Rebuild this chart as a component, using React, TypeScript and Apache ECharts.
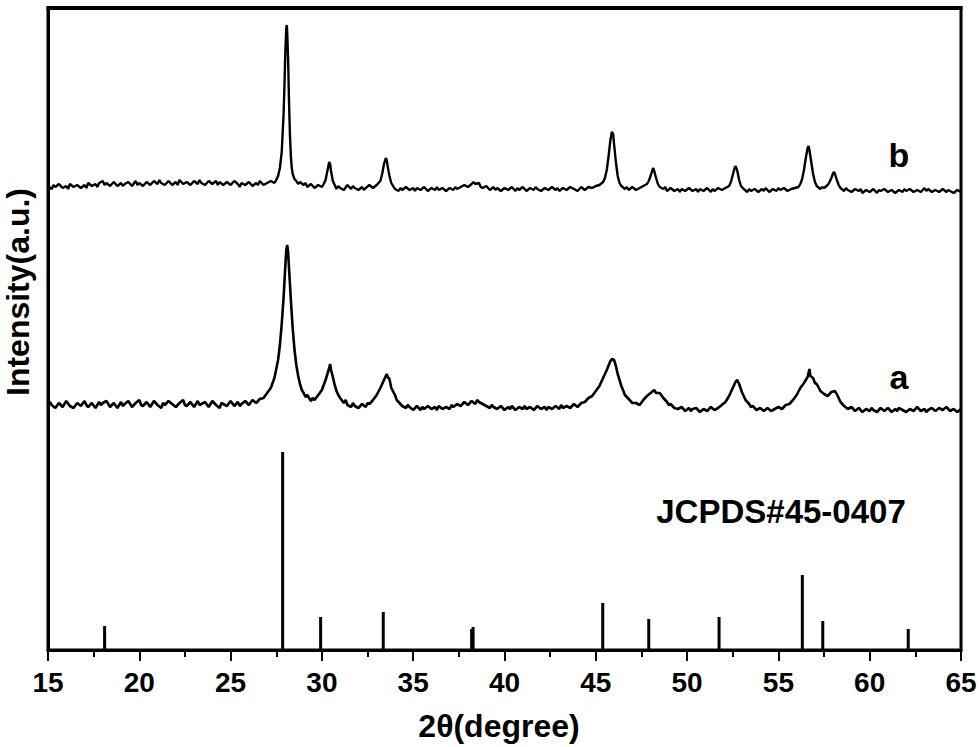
import React, { useEffect, useRef } from "react";
import * as echarts from "echarts";

// 2θ ticks
const xTicks = [15, 20, 25, 30, 35, 40, 45, 50, 55, 60, 65];

// JCPDS#45-0407 reference lines: [2θ, relative intensity]
const refLines: [number, number][] = [
  [18.1, 24], [27.85, 198], [29.93, 33], [33.36, 38], [38.2, 21], [38.28, 23],
  [45.38, 47], [47.9, 31], [51.75, 33], [56.31, 75], [57.43, 29], [62.11, 21],
];

// sample b (offset upper trace)
const curveB: [number, number][] = [
  [15.0,464],[15.2,461],[15.3,465],[15.4,463],[15.6,466],[15.8,462],[16.0,464],[16.1,461],[16.2,466],[16.4,463],[16.6,465],[16.8,462],
  [17.0,465],[17.1,462],[17.2,467],[17.4,464],[17.6,466],[17.7,463],[17.8,467],[18.0,469],[18.1,465],[18.2,467],[18.4,464],[18.6,468],[18.8,464],
  [19.0,467],[19.1,464],[19.2,466],[19.4,468],[19.6,464],[19.8,469],[19.9,465],[20.0,467],[20.2,464],[20.4,468],[20.6,465],[20.8,469],
  [21.0,466],[21.1,470],[21.2,467],[21.4,465],[21.6,469],[21.8,465],[22.0,468],[22.1,465],[22.2,470],[22.4,466],[22.6,468],[22.8,465],
  [23.0,469],[23.2,466],[23.3,470],[23.4,467],[23.6,465],[23.8,469],[24.0,466],[24.2,469],[24.3,465],[24.4,468],[24.6,465],[24.8,468],
  [25.0,465],[25.2,469],[25.4,466],[25.5,463],[25.6,467],[25.8,465],[26.0,468],[26.2,464],[26.4,467],[26.5,465],[26.6,469],[26.8,465],
  [27.0,467],[27.2,469],[27.4,467],[27.5,470],[27.6,474],[27.7,482],[27.8,498],[27.9,535],[27.95,565],[28.0,600],
  [28.05,622],[28.08,625],[28.1,618],[28.15,590],[28.2,548],[28.25,515],[28.3,494],[28.35,482],[28.4,476],[28.5,471],
  [28.6,469],[28.7,466],[28.8,468],[29.0,465],[29.1,467],[29.2,463],[29.4,466],[29.6,462],[29.8,465],[30.0,463],[30.1,466],[30.2,470],
  [30.3,479],[30.4,488],[30.45,486],[30.5,479],[30.6,469],[30.7,465],[30.8,461],[30.9,464],[31.0,462],[31.2,460],[31.4,465],
  [31.6,461],[31.7,464],[31.8,462],[32.0,460],[32.2,463],[32.3,460],[32.4,462],[32.6,465],[32.8,462],[33.0,465],[33.2,469],[33.3,476],
  [33.4,486],[33.5,492],[33.55,490],[33.6,484],[33.7,474],[33.8,467],[33.9,464],[34.0,461],[34.2,459],[34.3,462],[34.4,460],
  [34.6,463],[34.8,460],[35.0,462],[35.1,459],[35.2,462],[35.4,460],[35.6,463],[35.8,459],[36.0,462],[36.2,460],[36.3,463],[36.4,460],
  [36.6,462],[36.8,459],[37.0,462],[37.2,460],[37.3,463],[37.4,461],[37.6,463],[37.8,465],[38.0,463],[38.2,466],[38.3,468],[38.4,466],
  [38.6,467],[38.7,463],[38.8,462],[39.0,464],[39.2,460],[39.4,463],[39.5,460],[39.6,462],[39.8,459],[40.0,462],[40.2,460],[40.4,463],
  [40.6,459],[40.7,462],[40.8,460],[41.0,463],[41.2,459],[41.4,462],[41.6,460],[41.7,463],[41.8,461],[42.0,459],[42.2,462],[42.4,460],
  [42.6,463],[42.8,460],[42.9,462],[43.0,459],[43.2,462],[43.4,460],[43.6,463],[43.8,461],[44.0,459],[44.2,463],[44.4,460],
  [44.6,463],[44.8,462],[45.0,464],[45.2,465],[45.4,468],[45.5,472],[45.6,480],[45.7,494],[45.8,510],[45.88,518],
  [45.95,516],[46.0,506],[46.1,488],[46.2,474],[46.3,467],[46.4,464],[46.6,461],[46.7,463],[46.8,460],[47.0,463],[47.2,460],
  [47.4,462],[47.6,464],[47.8,466],[47.9,469],[48.0,474],[48.1,480],[48.15,482],[48.2,479],[48.3,472],[48.4,466],
  [48.5,463],[48.7,461],[48.8,463],[48.9,459],[49.1,462],[49.3,459],[49.5,461],[49.6,458],[49.7,461],[49.9,459],[50.1,462],[50.3,459],
  [50.5,461],[50.6,458],[50.7,461],[50.9,459],[51.1,462],[51.3,458],[51.4,461],[51.5,459],[51.7,462],[51.9,460],[52.1,462],[52.3,464],
  [52.4,468],[52.5,475],[52.6,482],[52.66,484],[52.75,479],[52.85,470],[52.95,464],[53.1,461],[53.3,458],[53.4,461],[53.5,459],
  [53.7,461],[53.9,458],[54.1,461],[54.2,459],[54.3,462],[54.5,458],[54.7,461],[54.9,459],[55.0,462],[55.1,460],[55.3,462],[55.5,459],
  [55.7,461],[55.9,462],[56.1,463],[56.2,466],[56.3,471],[56.4,480],[56.5,492],[56.6,502],[56.65,504],[56.7,500],
  [56.8,488],[56.9,476],[57.0,468],[57.1,464],[57.3,461],[57.4,463],[57.5,462],[57.7,465],[57.8,468],[57.9,472],[58.0,477],
  [58.05,478],[58.1,476],[58.2,470],[58.3,465],[58.4,462],[58.6,459],[58.7,462],[58.8,460],[59.0,458],[59.2,461],[59.4,459],
  [59.5,461],[59.6,457],[59.8,460],[60.0,458],[60.2,461],[60.4,457],[60.5,460],[60.6,459],[60.8,461],[61.0,458],[61.2,460],[61.4,457],
  [61.6,460],[61.8,458],[61.9,461],[62.0,459],[62.2,461],[62.4,458],[62.6,460],[62.8,458],[63.0,462],[63.1,459],[63.2,461],[63.4,458],
  [63.6,460],[63.8,458],[64.0,461],[64.2,458],[64.3,460],[64.4,459],[64.6,457],[64.8,460],[65.0,458],
];

// sample a (offset middle trace)
const curveA: [number, number][] = [
  [15.0,244],[15.1,248],[15.2,245],[15.4,242],[15.6,247],[15.8,243],[15.9,246],[16.0,249],[16.2,244],[16.4,242],[16.6,247],[16.8,244],
  [17.0,249],[17.1,245],[17.2,243],[17.4,247],[17.6,242],[17.8,248],[17.9,245],[18.0,247],[18.2,249],[18.4,243],[18.6,247],[18.8,242],
  [19.0,248],[19.1,244],[19.2,246],[19.4,249],[19.6,243],[19.8,247],[20.0,250],[20.1,245],[20.2,244],[20.4,248],[20.6,243],[20.8,249],
  [21.0,245],[21.2,242],[21.3,247],[21.4,245],[21.6,249],[21.8,246],[22.0,243],[22.2,247],[22.4,250],[22.5,245],[22.6,244],[22.8,248],
  [23.0,243],[23.2,249],[23.3,245],[23.4,246],[23.6,248],[23.8,243],[24.0,249],[24.2,245],[24.4,242],[24.5,247],[24.6,246],[24.8,244],
  [25.0,249],[25.2,244],[25.4,248],[25.5,244],[25.6,246],[25.8,249],[26.0,245],[26.2,250],[26.4,247],[26.6,251],[26.8,252],
  [27.0,257],[27.2,262],[27.4,272],[27.6,290],[27.7,305],[27.8,326],[27.9,352],[28.0,385],[28.05,400],[28.1,405],
  [28.15,398],[28.2,382],[28.3,350],[28.4,322],[28.5,300],[28.6,285],[28.7,274],[28.8,266],[28.9,260],[29.0,257],
  [29.1,253],[29.2,255],[29.4,249],[29.5,252],[29.6,250],[29.8,255],[30.0,260],[30.2,270],[30.3,276],[30.4,282],[30.45,286],[30.5,280],
  [30.6,273],[30.7,265],[30.8,259],[30.9,255],[31.0,252],[31.2,247],[31.3,250],[31.4,245],[31.6,243],[31.7,247],[31.8,244],[32.0,242],[32.2,246],
  [32.4,243],[32.5,247],[32.6,246],[32.8,250],[33.0,255],[33.2,262],[33.4,270],[33.55,276],[33.6,273],[33.7,271],[33.8,262],
  [34.0,255],[34.1,250],[34.2,248],[34.4,244],[34.6,242],[34.7,245],[34.8,243],[35.0,240],[35.2,244],[35.4,240],[35.5,243],[35.6,241],[35.8,244],
  [36.0,241],[36.2,243],[36.3,240],[36.4,244],[36.6,241],[36.8,243],[37.0,241],[37.1,245],[37.2,243],[37.4,246],[37.6,244],[37.8,248],
  [38.0,245],[38.2,249],[38.4,246],[38.5,250],[38.6,248],[38.8,246],[39.0,244],[39.2,242],[39.3,245],[39.4,243],[39.6,241],[39.8,244],
  [40.0,240],[40.2,243],[40.3,241],[40.4,244],[40.6,240],[40.8,243],[41.0,241],[41.1,244],[41.2,241],[41.4,243],[41.6,240],[41.8,244],
  [42.0,241],[42.2,243],[42.3,240],[42.4,243],[42.6,241],[42.8,244],[43.0,241],[43.1,245],[43.2,242],[43.4,244],[43.6,242],[43.8,246],
  [44.0,243],[44.2,247],[44.4,248],[44.6,252],[44.8,254],[45.0,259],[45.2,264],[45.4,272],[45.6,280],[45.8,289],
  [45.9,291],[46.0,290],[46.1,284],[46.2,276],[46.4,264],[46.6,255],[46.8,251],[47.0,247],[47.2,247],[47.4,245],
  [47.6,250],[47.8,254],[48.0,257],[48.2,260],[48.3,257],[48.5,257],[48.7,252],[48.9,248],[49.0,245],[49.1,246],[49.3,242],
  [49.5,241],[49.7,243],[49.9,239],[50.1,242],[50.2,239],[50.3,241],[50.5,242],[50.7,238],[50.9,241],[51.1,239],[51.3,243],
  [51.5,240],[51.7,242],[51.9,245],[52.1,248],[52.3,254],[52.5,262],[52.65,268],[52.75,270],[52.85,266],[53.0,258],
  [53.2,250],[53.4,246],[53.5,243],[53.6,244],[53.8,240],[54.0,242],[54.2,239],[54.4,242],[54.6,239],[54.8,241],[55.0,243],
  [55.2,241],[55.4,245],[55.6,246],[55.8,250],[56.0,255],[56.2,262],[56.4,267],[56.6,273],[56.7,281],[56.75,274],
  [56.9,272],[57.0,267],[57.1,266],[57.3,259],[57.5,256],[57.7,254],[57.9,258],[58.1,259],[58.25,254],[58.4,248],[58.6,244],
  [58.8,241],[59.0,243],[59.2,239],[59.4,242],[59.6,238],[59.8,241],[60.0,239],[60.1,242],[60.2,240],[60.4,238],[60.6,242],
  [60.8,239],[61.0,242],[61.2,238],[61.4,241],[61.5,239],[61.6,242],[61.8,240],[62.0,238],[62.2,241],[62.4,239],[62.6,243],
  [62.8,239],[63.0,241],[63.1,238],[63.2,240],[63.4,242],[63.6,239],[63.8,242],[64.0,240],[64.2,243],[64.4,239],[64.6,241],
  [64.8,238],[65.0,241],
];

const traceLabels = ["a", "b"];
const refLabel = "JCPDS#45-0407";
const xTitle = "2θ(degree)";
const yTitle = "Intensity(a.u.)";

export default function App() {
  const ref = useRef<HTMLDivElement>(null);
  useEffect(() => {
    if (!ref.current) return;
    const chart = echarts.init(ref.current, null, { renderer: "svg" });
    const font = "Liberation Sans, Arial, sans-serif";
    const lineStyle = { color: "#000", width: 3 };
    const bold = (size: number) => ({ fontFamily: font, fontWeight: "bold", fontSize: size, fill: "#000", textAlign: "center", textVerticalAlign: "middle" });
    const G = { left: 48, right: 19, top: 8, bottom: 97 };
    chart.setOption({
      animation: false,
      backgroundColor: "#fff",
      grid: { ...G, containLabel: false, show: true, borderColor: "#000", borderWidth: 3, backgroundColor: "transparent" },
      xAxis: {
        type: "value",
        min: xTicks[0],
        max: xTicks[xTicks.length - 1],
        interval: 5,
        position: "bottom",
        axisLine: { show: true, onZero: false, lineStyle },
        axisTick: { inside: false, length: 11, lineStyle: { color: "#000", width: 2 } },
        minorTick: { show: true, splitNumber: 2, length: 7, lineStyle: { color: "#000", width: 2 } },
        axisLabel: { fontFamily: font, fontWeight: "bold", fontSize: 28, color: "#000", margin: 18 },
        splitLine: { show: false },
      },
      yAxis: {
        type: "value",
        min: 0,
        max: 642,
        position: "left",
        axisLine: { show: true, onZero: false, lineStyle },
        axisTick: { show: false },
        axisLabel: { show: false },
        splitLine: { show: false },
      },
      series: [
        {
          type: "line",
          data: curveA,
          showSymbol: false,
          symbol: "none",
          lineStyle: { color: "#000", width: 2.6 },
        },
        {
          type: "line",
          data: curveB,
          showSymbol: false,
          symbol: "none",
          lineStyle: { color: "#000", width: 2.4 },
        },
        {
          type: "bar",
          data: refLines,
          barWidth: 3,
          itemStyle: { color: "#000" },
        },
      ],
      graphic: [
        {
          type: "rect",
          z: 100,
          shape: { x: G.left - 1.5, y: G.top - 2, width: 980 - G.right - G.left + 3, height: 4 },
          style: { fill: "#000" },
        },
        { type: "text", x: 18, y: 292, rotation: Math.PI / 2, style: { text: yTitle, ...bold(32) } },
        { type: "text", x: 499, y: 726, style: { text: xTitle, ...bold(32) } },
        { type: "text", x: 899, y: 377, style: { text: traceLabels[0], ...bold(34) } },
        { type: "text", x: 899, y: 155, style: { text: traceLabels[1], ...bold(34) } },
        { type: "text", x: 781, y: 511, style: { text: refLabel, ...bold(33) } },
      ],
    });
    return () => chart.dispose();
  }, []);
  return <div ref={ref} style={{ position: "absolute", left: 0, top: 0, width: 980, height: 747 }} />;
}
